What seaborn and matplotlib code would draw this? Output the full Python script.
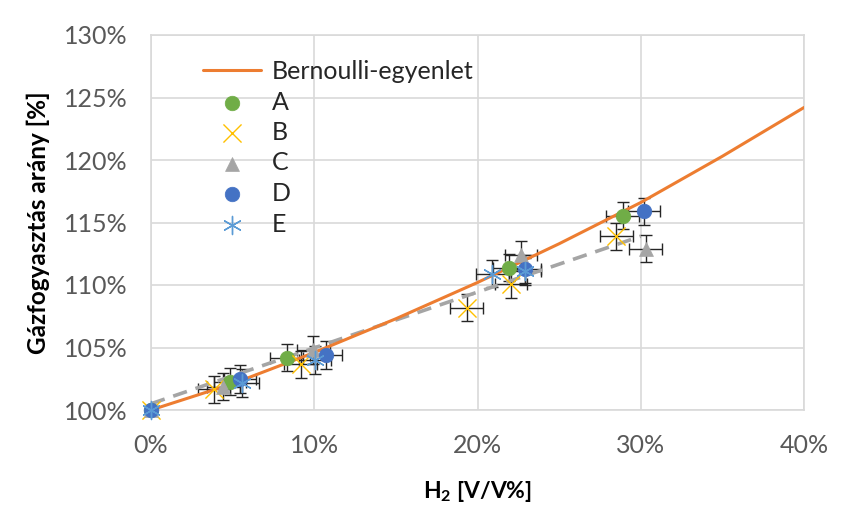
import matplotlib
matplotlib.use("Agg")
import matplotlib.pyplot as plt
import seaborn as sns
import numpy as np
import pandas as pd
from matplotlib.ticker import FuncFormatter

# ---- data (percent) ----
bern_x = [0, 5, 10, 15, 20, 25, 30, 35, 40]
bern_y = [100.0, 102.1, 104.6, 107.3, 110.2, 113.3, 116.6, 120.3, 124.2]

trend_x = [0.0, 30.0]
trend_y = [100.5, 113.9]

A_x = [0.0, 4.84, 8.31, 21.93, 28.9]
A_y = [100.0, 102.27, 104.2, 111.4, 115.55]
B_x = [0.0, 3.86, 9.17, 19.34, 22.06, 28.5]
B_y = [100.0, 101.65, 103.65, 108.2, 110.1, 113.9]
C_x = [0.0, 4.43, 9.95, 22.67, 30.3]
C_y = [100.0, 101.87, 104.8, 112.4, 112.9]
D_x = [0.0, 5.45, 10.72, 22.9, 30.2]
D_y = [100.0, 102.48, 104.4, 111.3, 115.9]
E_x = [0.0, 5.6, 10.05, 20.9, 22.9]
E_y = [100.0, 102.15, 104.0, 110.9, 111.1]

x_err = 1.0   # percentage points
y_err = 1.1

series = [
    ("A", A_x, A_y, "o", "#70AD47", 110, None),
    ("B", B_x, B_y, "x", "#FFC000", 170, 1.0),
    ("C", C_x, C_y, "^", "#A5A5A5", 100, None),
    ("D", D_x, D_y, "o", "#4472C4", 110, None),
    ("E", E_x, E_y, (6, 2, 0), "#5B9BD5", 170, 1.0),
]

sns.set_theme(style="white")
plt.rcParams['font.family'] = ['Lato', 'DejaVu Sans']

fig = plt.figure(figsize=(8.43, 5.07), dpi=100)
ax = fig.add_axes([151/843, 1-410/507, (804-151)/843, (410-35)/507])

# error bars
for name, xs, ys, m, c, s, lw in series:
    ax.errorbar(xs[1:], ys[1:], xerr=x_err, yerr=y_err, fmt="none",
                ecolor="#262626", elinewidth=1.0, capsize=4, capthick=1.0,
                zorder=2)

# trend line (dashed)
sns.lineplot(x=trend_x, y=trend_y, ax=ax, color="#A5A5A5", lw=2.6,
             linestyle=(0, (4, 2.5)), zorder=3, legend=False)

# Bernoulli line
sns.lineplot(x=bern_x, y=bern_y, ax=ax, color="#ED7D31", lw=2.2,
             label="Bernoulli-egyenlet", zorder=4)

for name, xs, ys, m, c, s, lw in series:
    df = pd.DataFrame({"x": xs, "y": ys})
    kw = dict(marker=m, s=s, label=name, zorder=5, clip_on=False)
    if lw is None:
        kw.update(color=c, edgecolor=c, linewidth=0.5)
    else:
        kw.update(color=c, linewidth=lw)
    sns.scatterplot(data=df, x="x", y="y", ax=ax, **kw)

ax.set_xlim(0, 40)
ax.set_ylim(100, 130)
ax.set_xticks([0, 10, 20, 30, 40])
ax.set_yticks([100, 105, 110, 115, 120, 125, 130])
ax.xaxis.set_major_formatter(FuncFormatter(lambda v, p: f"{v:.0f}%"))
ax.yaxis.set_major_formatter(FuncFormatter(lambda v, p: f"{v:.0f}%"))
ax.tick_params(axis="both", labelsize=18, colors="#595959", length=0)
ax.tick_params(axis="y", pad=17)
ax.tick_params(axis="x", pad=17)
ax.grid(True, color="#D9D9D9", lw=1.2)
ax.set_axisbelow(True)
for sp in ax.spines.values():
    sp.set_color("#D9D9D9")
    sp.set_linewidth(1.2)

ax.set_xlabel("H$_\\mathregular{2}$ [V/V%]", fontsize=16.5, fontweight="bold",
              color="black", labelpad=16)
ax.set_ylabel("Gázfogyasztás arány [%]", fontsize=17.5, fontweight="bold",
              color="black", labelpad=10)

leg = ax.legend(loc="upper left", bbox_to_anchor=(0.065, 0.96), frameon=False,
                fontsize=18, handlelength=2.3, handletextpad=0.45,
                labelspacing=0.3, borderaxespad=0)

fig.savefig("out.png", dpi=100, facecolor="white")
